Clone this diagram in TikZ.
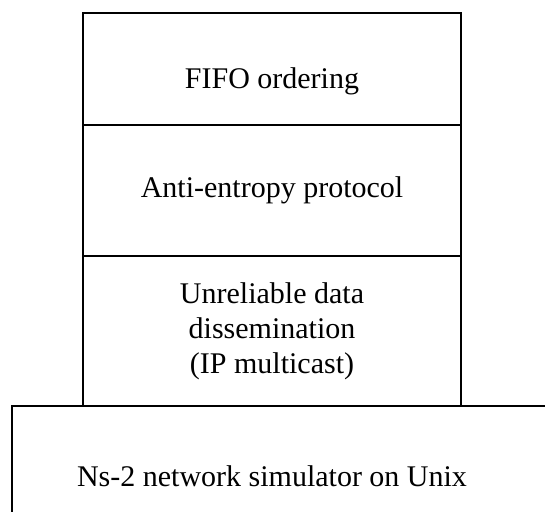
\documentclass[tikz,border=0pt]{standalone}
\usepackage{fontspec}
\setmainfont{Liberation Serif}
\usetikzlibrary{positioning}

\begin{document}
\begin{tikzpicture}[x=1pt,y=-1pt,
        layer/.style={draw,line width=1.4pt,inner sep=0pt,outer sep=0pt,
            minimum width=378pt,align=center,font=\fontsize{30}{35}\selectfont}]
        \clip (0,0) rectangle (545,511);
        % Protocol stack
        \node[layer,minimum height=112pt,text height=46pt] (fifo) at (272,69) {FIFO ordering};
        \node[layer,minimum height=131pt,below=0pt of fifo] (anti) {Anti-entropy protocol};
        \node[layer,minimum height=150pt,below=0pt of anti] (unrel) {Unreliable data\\dissemination\\(IP multicast)};
        
        % Simulator underneath (runs off the page)
        \node[layer,draw=none,minimum width=520pt,minimum height=140pt,below=0pt of unrel] (ns) {Ns-2 network simulator on Unix};
        \draw[line width=1.4pt] (ns.south west) -- (ns.north west) -- ([xshift=40pt]ns.north east);
    \end{tikzpicture}
\end{document}
